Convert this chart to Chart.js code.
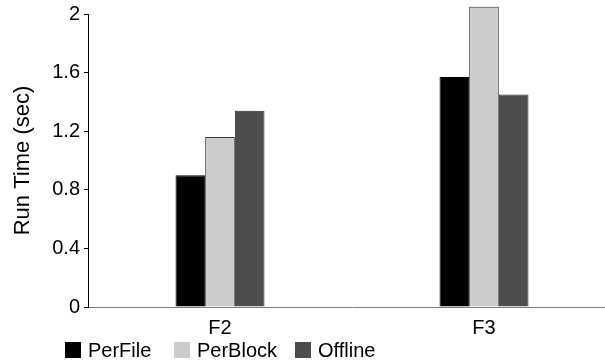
<!DOCTYPE html>
<html lang="en">
<head>
    <meta charset="UTF-8">
    <title>Run Time</title>
    <style>
        body {
            margin: 0;
            padding: 0;
            background: #ffffff;
            overflow: hidden;
            font-family: 'Liberation Sans', Arial, sans-serif;
        }

        .chart-wrap {
            position: relative;
            width: 620px;
            height: 364px;
        }

        canvas {
            position: absolute;
            left: 0;
            top: 0;
        }

        .legend-item {
            position: absolute;
            top: 340px;
            height: 20px;
            display: flex;
            align-items: center;
            font-size: 20px;
            color: #000;
            white-space: nowrap;
        }

        .legend-box {
            width: 16px;
            height: 16px;
            box-sizing: border-box;
            border: 1px solid transparent;
        }
    </style>
</head>

<body>
    <div class="chart-wrap" id="wrap">
        <canvas id="runTimeChart" width="620" height="364"></canvas>
    </div>

    <script src="https://cdn.jsdelivr.net/npm/chart.js"></script>

    <script>
        const categories = ["F2", "F3"];
        const perFile = [0.90, 1.57];
        const perBlock = [1.16, 2.05];
        const offline = [1.34, 1.45];
        const yTicks = [0, 0.4, 0.8, 1.2, 1.6, 2];

        const font = { family: "'Liberation Sans', Arial, sans-serif", size: 20 };

        const ctx = document.getElementById("runTimeChart").getContext("2d");
        const chart = new Chart(ctx, {
            type: "bar",
            data: {
                labels: categories,
                datasets: [
                    { label: "PerFile", data: perFile, backgroundColor: "#000000", borderColor: "#000000" },
                    { label: "PerBlock", data: perBlock, backgroundColor: "#cccccc", borderColor: "#3a3a3a" },
                    { label: "Offline", data: offline, backgroundColor: "#4d4d4d", borderColor: "#2a2a2a" }
                ].map(d => Object.assign(d, {
                    borderWidth: 1,
                    categoryPercentage: 0.337,
                    barPercentage: 1,
                    clip: false
                }))
            },
            options: {
                responsive: false,
                animation: false,
                layout: { padding: { top: 0, left: 0, right: 4, bottom: 23 } },
                plugins: {
                    tooltip: { enabled: false },
                    legend: { display: false }
                },
                scales: {
                    x: {
                        grid: { display: false },
                        border: { display: true, color: "#808080", width: 1 },
                        ticks: { font: font, color: "#000000", padding: 1 }
                    },
                    y: {
                        min: 0,
                        max: 2,
                        afterBuildTicks: axis => {
                            axis.ticks = yTicks.map(v => ({ value: v }));
                        },
                        afterFit: axis => {
                            axis.width = 88;
                        },
                        grid: { drawOnChartArea: false, drawTicks: true, tickLength: 4, color: "#000000" },
                        border: { display: true, color: "#000000", width: 1 },
                        ticks: {
                            font: { family: font.family, size: 20, lineHeight: 1.0 },
                            color: "#000000",
                            padding: 4,
                            callback: v => String(+v.toFixed(1))
                        },
                        title: {
                            display: true,
                            text: "Run Time (sec)",
                            font: { family: font.family, size: 22 },
                            color: "#000000",
                            padding: { top: 10, bottom: 0 }
                        }
                    }
                }
            }
        });

        // legend below the axis, one item per dataset
        const legendLeft = [65, 174, 295];
        chart.data.datasets.forEach((ds, i) => {
            const item = document.createElement("div");
            item.className = "legend-item";
            item.style.left = legendLeft[i] + "px";
            const box = document.createElement("span");
            box.className = "legend-box";
            box.style.background = ds.backgroundColor;
            box.style.marginRight = "7px";
            item.appendChild(box);
            item.appendChild(document.createTextNode(ds.label));
            document.getElementById("wrap").appendChild(item);
        });
    </script>
</body>
</html>
